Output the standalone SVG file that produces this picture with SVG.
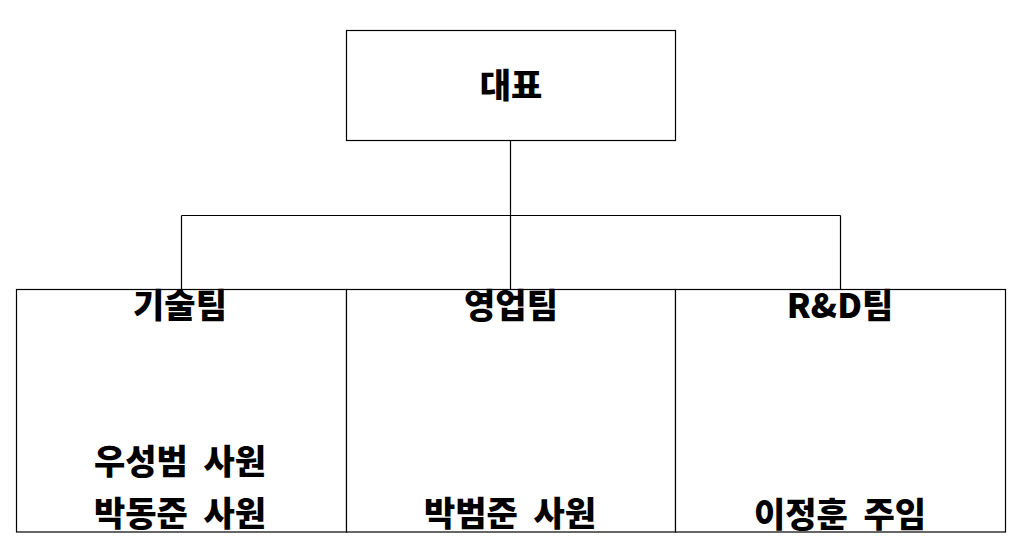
<svg xmlns="http://www.w3.org/2000/svg" width="1023" height="559" viewBox="0 0 1023 559">
<style>
.box{fill:#fff;stroke:#000;stroke-width:1.2}
.ln{fill:none;stroke:#000;stroke-width:1.2}
.t{font-family:"Noto Sans CJK KR","Liberation Sans",sans-serif;font-weight:900;font-size:34px;fill:#000;text-anchor:middle;word-spacing:8px}
</style>
<rect width="1023" height="559" fill="#fff"/>
<g id="connectors">
<path class="ln" d="M510.5,140.5 V215.5 M181.5,215.5 H840.5 M181.5,215.5 V289.5 M510.5,215.5 V289.5 M840.5,215.5 V289.5"/>
</g>
<g id="ceo">
<rect class="box" x="346.5" y="30.5" width="329" height="110"/>
<text class="t" x="511" y="98">대표</text>
</g>
<g id="tech">
<rect class="box" x="16.5" y="289.5" width="330" height="242.5"/>
<text class="t" x="180" y="318">기술팀</text>
<text class="t" x="180" y="474">우성범 사원</text>
<text class="t" x="180" y="526">박동준 사원</text>
</g>
<g id="sales">
<rect class="box" x="346.5" y="289.5" width="329" height="242.5"/>
<text class="t" x="511" y="318">영업팀</text>
<text class="t" x="510" y="526">박범준 사원</text>
</g>
<g id="rnd">
<rect class="box" x="675.5" y="289.5" width="330" height="242.5"/>
<text class="t" x="840" y="318">R&amp;D팀</text>
<text class="t" x="840" y="527">이정훈 주임</text>
</g>
</svg>
